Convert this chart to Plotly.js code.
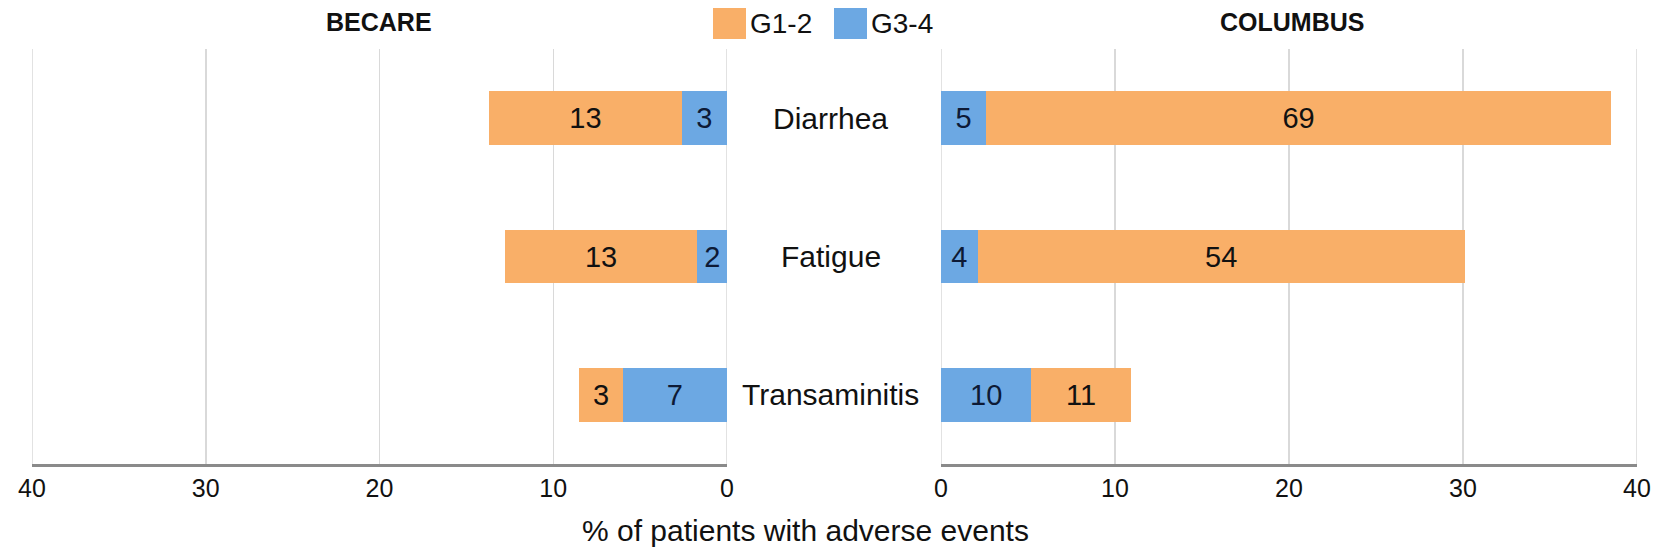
<!DOCTYPE html>
<html>
<head>
<meta charset="utf-8">
<script src="https://cdn.plot.ly/plotly-3.0.1.min.js"></script>
<style>
  html, body { margin: 0; padding: 0; background: #fff; }
  #chart { width: 1660px; height: 557px; }
</style>
</head>
<body>
<div id="chart"></div>
<script>
// adverse events, % of patients (bar length) and patient counts (bar labels)
const categories = ['Diarrhea', 'Fatigue', 'Transaminitis'];

const becareG34 = [2.6, 1.7, 6.0];
const becareG12 = [11.1, 11.1, 2.5];
const becareG34Labels = ['3', '2', '7'];
const becareG12Labels = ['13', '13', '3'];

const columbusG34 = [2.6, 2.1, 5.2];
const columbusG12 = [35.9, 28.0, 5.7];
const columbusG34Labels = ['5', '4', '10'];
const columbusG12Labels = ['69', '54', '11'];

const tickVals = [0, 10, 20, 30, 40];
const panelTitles = ['BECARE', 'COLUMBUS'];
const legendNames = ['G1-2', 'G3-4'];
const axisTitle = '% of patients with adverse events';

const ORANGE = '#f9af68';
const BLUE = '#6ca8e3';
const GRID = '#d9d9d9';
const FONT = '"Liberation Sans", Arial, sans-serif';
const W = 1660, H = 557;
const TOP = 49, BOTTOM = 464;   // plot area in pixels

function barTrace(x, labels, color, xaxis, textColor) {
  return {
    type: 'bar',
    orientation: 'h',
    y: categories,
    x: x,
    text: labels,
    xaxis: xaxis,
    yaxis: 'y',
    width: 0.39,
    marker: { color: color, line: { width: 0 } },
    textposition: 'inside',
    insidetextanchor: 'middle',
    textangle: 0,
    constraintext: 'none',
    insidetextfont: { family: FONT, size: 29, color: textColor },
    hoverinfo: 'x+y',
    showlegend: false
  };
}

const data = [
  barTrace(becareG34, becareG34Labels, BLUE, 'x', '#0d1a36'),
  barTrace(becareG12, becareG12Labels, ORANGE, 'x', '#111'),
  barTrace(columbusG34, columbusG34Labels, BLUE, 'x2', '#0d1a36'),
  barTrace(columbusG12, columbusG12Labels, ORANGE, 'x2', '#111')
];

const xBase = {
  tickvals: tickVals,
  ticktext: tickVals.map(String),
  showgrid: true,
  gridcolor: GRID,
  gridwidth: 1.5,
  zeroline: false,
  showline: true,
  linecolor: '#8a8a8a',
  linewidth: 3,
  ticks: '',
  ticklabelstandoff: 0,
  tickfont: { family: FONT, size: 25, color: '#111' },
  fixedrange: true
};

// paper coords are relative to the plot area
const px = v => v / W;
const py = v => (BOTTOM - v) / (BOTTOM - TOP);

const annotations = [];
// panel titles
[[panelTitles[0], 379], [panelTitles[1], 1292]].forEach(([t, cx]) => {
  annotations.push({
    text: '<b>' + t + '</b>', xref: 'paper', yref: 'paper',
    x: px(cx), y: py(22), xanchor: 'center', yanchor: 'middle',
    showarrow: false, font: { family: FONT, size: 25, color: '#111' }
  });
});
// category labels in the gap between panels
categories.forEach(c => {
  annotations.push({
    text: c, xref: 'paper', yref: 'y', x: px(831), y: c,
    xanchor: 'center', yanchor: 'middle', showarrow: false,
    font: { family: FONT, size: 30, color: '#111' }
  });
});
// axis title
annotations.push({
  text: axisTitle, xref: 'paper', yref: 'paper', x: px(805), y: py(530),
  xanchor: 'center', yanchor: 'middle', showarrow: false,
  font: { family: FONT, size: 30, color: '#111' }
});
// legend text
[[legendNames[0], 748], [legendNames[1], 869]].forEach(([t, lx]) => {
  annotations.push({
    text: t, xref: 'paper', yref: 'paper', x: px(lx), y: py(24),
    xanchor: 'left', yanchor: 'middle', showarrow: false,
    font: { family: FONT, size: 28, color: '#111' }
  });
});

const shapes = [
  { type: 'rect', xref: 'paper', yref: 'paper', x0: px(713), x1: px(746), y0: py(39), y1: py(8),
    fillcolor: ORANGE, line: { width: 0 } },
  { type: 'rect', xref: 'paper', yref: 'paper', x0: px(834), x1: px(867), y0: py(39), y1: py(8),
    fillcolor: BLUE, line: { width: 0 } }
];
// grid lines at the range ends, which plotly skips
[['x', 0], ['x', 40], ['x2', 0], ['x2', 40]].forEach(([ref, v]) => {
  shapes.push({
    type: 'line', xref: ref, yref: 'paper', x0: v, x1: v, y0: 0, y1: 1,
    layer: 'below', line: { color: GRID, width: 1.5 }
  });
});

const layout = {
  width: W,
  height: H,
  margin: { l: 0, r: 0, t: TOP, b: H - BOTTOM, pad: 0 },
  paper_bgcolor: '#fff',
  plot_bgcolor: '#fff',
  barmode: 'stack',
  showlegend: false,
  xaxis: Object.assign({}, xBase, { domain: [px(32), px(727)], range: [40, 0], anchor: 'y' }),
  xaxis2: Object.assign({}, xBase, { domain: [px(941), px(1637)], range: [0, 40], anchor: 'y' }),
  yaxis: {
    type: 'category',
    range: [2.5, -0.5],
    showticklabels: false,
    showgrid: false,
    zeroline: false,
    showline: false,
    fixedrange: true
  },
  annotations: annotations,
  shapes: shapes
};

Plotly.newPlot('chart', data, layout, { displayModeBar: false, staticPlot: true });
</script>
</body>
</html>
